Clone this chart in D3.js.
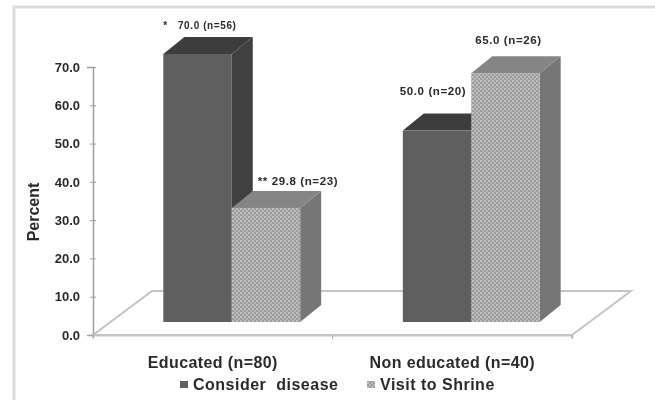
<!DOCTYPE html>
<html>
<head>
<meta charset="utf-8">
<script src="https://cdn.jsdelivr.net/npm/d3@7"></script>
<style>
body { margin: 0; background: #fff; }
text { font-family: "Liberation Sans", Arial, sans-serif; font-weight: bold; fill: #2b2b2b; white-space: pre; }
</style>
</head>
<body>
<svg id="chart" width="655" height="400"></svg>
<script>
const categories = ['Educated (n=80)', 'Non educated (n=40)']
const series = ['Consider  disease', 'Visit to Shrine']
const considerDisease = [70.0, 50.0]
const visitToShrine = [29.8, 65.0]
const valueLabels = [
    ['*   70.0 (n=56)', '50.0 (n=20)'],
    ['** 29.8 (n=23)', '65.0 (n=26)']
]
const yTicks = [0, 10, 20, 30, 40, 50, 60, 70]

const svg = d3.select('#chart')
const defs = svg.append('defs')

// dotted fill of the shrine series
const pat = defs.append('pattern')
    .attr('id', 'dots')
    .attr('width', 4)
    .attr('height', 4)
    .attr('patternUnits', 'userSpaceOnUse')
pat.append('rect').attr('width', 4).attr('height', 4).attr('fill', '#9c9c9c')
pat.append('circle').attr('cx', 1).attr('cy', 1).attr('r', 0.9).attr('fill', '#cfcfcf')
pat.append('circle').attr('cx', 3).attr('cy', 3).attr('r', 0.9).attr('fill', '#c4c4c4')

defs.append('filter').attr('id', 'soft')
    .append('feGaussianBlur').attr('stdDeviation', 0.6)

const chart = svg.append('g').attr('filter', 'url(#soft)')

// frame, only the top and left edges show in the crop
chart.append('path')
    .attr('d', d3.line()([[14, 400], [14, 7], [655, 7]]))
    .attr('fill', 'none')
    .attr('stroke', '#dcdcdc')
    .attr('stroke-width', 3)

const y = d3.scaleLinear().domain([0, 70]).range([335, 67])
const x0 = d3.scaleBand().domain(categories).range([93, 572])
const x1 = d3.scaleBand().domain(series).range([0, x0.bandwidth()]).paddingOuter(0.75)

// how far the 3d floor runs back, and where bars stand on it
const floor = {dx: 59, dy: 44}
const stand = {dx: 19, dy: 13}
const depth = {dx: 21, dy: 17}

const floorPts = [
    [x0.range()[0], y(0)],
    [x0.range()[0] + floor.dx, y(0) - floor.dy],
    [x0.range()[1] + floor.dx, y(0) - floor.dy],
    [x0.range()[1], y(0)]
]
chart.append('path')
    .attr('d', d3.line()(floorPts) + 'Z')
    .attr('fill', '#fff')
    .attr('stroke', '#c4c4c4')
    .attr('stroke-width', 2)

const yAxis = d3.axisLeft(y).tickValues(yTicks).tickFormat(d => d.toFixed(1)).tickSize(6)
const yAxisG = chart.append('g')
    .attr('class', 'axis y-axis')
    .attr('transform', `translate(${x0.range()[0]},0)`)
    .call(yAxis)
yAxisG.select('.domain').attr('stroke', '#a0a0a0').attr('stroke-width', 1.5)
yAxisG.selectAll('.tick line').attr('stroke', '#a0a0a0').attr('x2', 3).attr('x1', -3)
yAxisG.selectAll('.tick text').attr('x', -13).style('font-size', '13px')

const xAxis = d3.axisBottom(x0).tickSize(3).tickFormat(d => d)
const xAxisG = chart.append('g')
    .attr('class', 'axis x-axis')
    .attr('transform', `translate(0,${y(0)})`)
    .call(xAxis)
xAxisG.select('.domain').attr('stroke', '#c4c4c4').attr('stroke-width', 2)
xAxisG.selectAll('.tick').remove()

// category boundaries get the tick marks
chart.selectAll('.cat-tick')
    .data([x0.range()[0], x0(categories[1]), x0.range()[1]])
    .join('line')
    .attr('class', 'cat-tick')
    .attr('x1', d => d).attr('x2', d => d)
    .attr('y1', y(0)).attr('y2', y(0) + 4)
    .attr('stroke', '#aaa')

chart.selectAll('.cat-label')
    .data(categories)
    .join('text')
    .attr('class', 'cat-label')
    .attr('x', d => x0(d) + x0.bandwidth() / 2)
    .attr('y', 368)
    .attr('text-anchor', 'middle')
    .style('font-size', '16px')
    .style('letter-spacing', '0.4px')
    .text(d => d)

chart.append('text')
    .attr('transform', 'translate(39,212) rotate(-90)')
    .attr('text-anchor', 'middle')
    .style('font-size', '16px')
    .text('Percent')

const barStyles = [
    {front: '#5e5e5e', top: '#3e3e3e', side: '#3f3f3f'},
    {front: 'url(#dots)', top: '#858585', side: '#767676'}
]
const bars = []
categories.forEach((c, i) => {
    bars.push({cat: c, s: 0, value: considerDisease[i], label: valueLabels[0][i]})
    bars.push({cat: c, s: 1, value: visitToShrine[i], label: valueLabels[1][i]})
})

const barG = chart.selectAll('.bar')
    .data(bars)
    .join('g')
    .attr('class', 'bar')

const barBox = d => {
    const left = x0(d.cat) + x1(series[d.s]) + stand.dx
    const right = left + x1.bandwidth()
    const bottom = y(0) - stand.dy
    const top = y(d.value) - stand.dy
    return {left, right, bottom, top}
}

barG.append('path')
    .attr('d', d => {
        const b = barBox(d)
        return d3.line()([[b.right, b.bottom], [b.right + depth.dx, b.bottom - depth.dy],
            [b.right + depth.dx, b.top - depth.dy], [b.right, b.top]]) + 'Z'
    })
    .attr('fill', d => barStyles[d.s].side)
barG.append('path')
    .attr('d', d => {
        const b = barBox(d)
        return d3.line()([[b.left, b.top], [b.left + depth.dx, b.top - depth.dy],
            [b.right + depth.dx, b.top - depth.dy], [b.right, b.top]]) + 'Z'
    })
    .attr('fill', d => barStyles[d.s].top)
barG.append('rect')
    .attr('x', d => barBox(d).left)
    .attr('y', d => barBox(d).top)
    .attr('width', x1.bandwidth())
    .attr('height', d => barBox(d).bottom - barBox(d).top)
    .attr('fill', d => barStyles[d.s].front)

// value labels were dragged by hand in the original, so offsets per bar
const labelOffsets = [
    {dx: 0, dy: -25, size: 10},
    {dx: 26, dy: -23, size: 11.5},
    {dx: -3, dy: -36, size: 11.5},
    {dx: 4, dy: -29, size: 11.5}
]
barG.append('text')
    .attr('x', (d, i) => barBox(d).left + labelOffsets[i].dx)
    .attr('y', (d, i) => barBox(d).top + labelOffsets[i].dy)
    .style('font-size', (d, i) => labelOffsets[i].size + 'px')
    .style('letter-spacing', '0.6px')
    .text(d => d.label)

// legend
const legend = chart.selectAll('.legend-item')
    .data(series)
    .join('g')
    .attr('class', 'legend-item')
    .attr('transform', (d, i) => `translate(${[180, 367][i]},390)`)
legend.append('rect')
    .attr('x', 0).attr('y', -9)
    .attr('width', 8).attr('height', 7)
    .attr('fill', (d, i) => barStyles[i].front)
legend.append('text')
    .attr('x', 13)
    .attr('y', 0)
    .style('font-size', '16px')
    .style('letter-spacing', '0.5px')
    .text(d => d)
</script>
</body>
</html>
